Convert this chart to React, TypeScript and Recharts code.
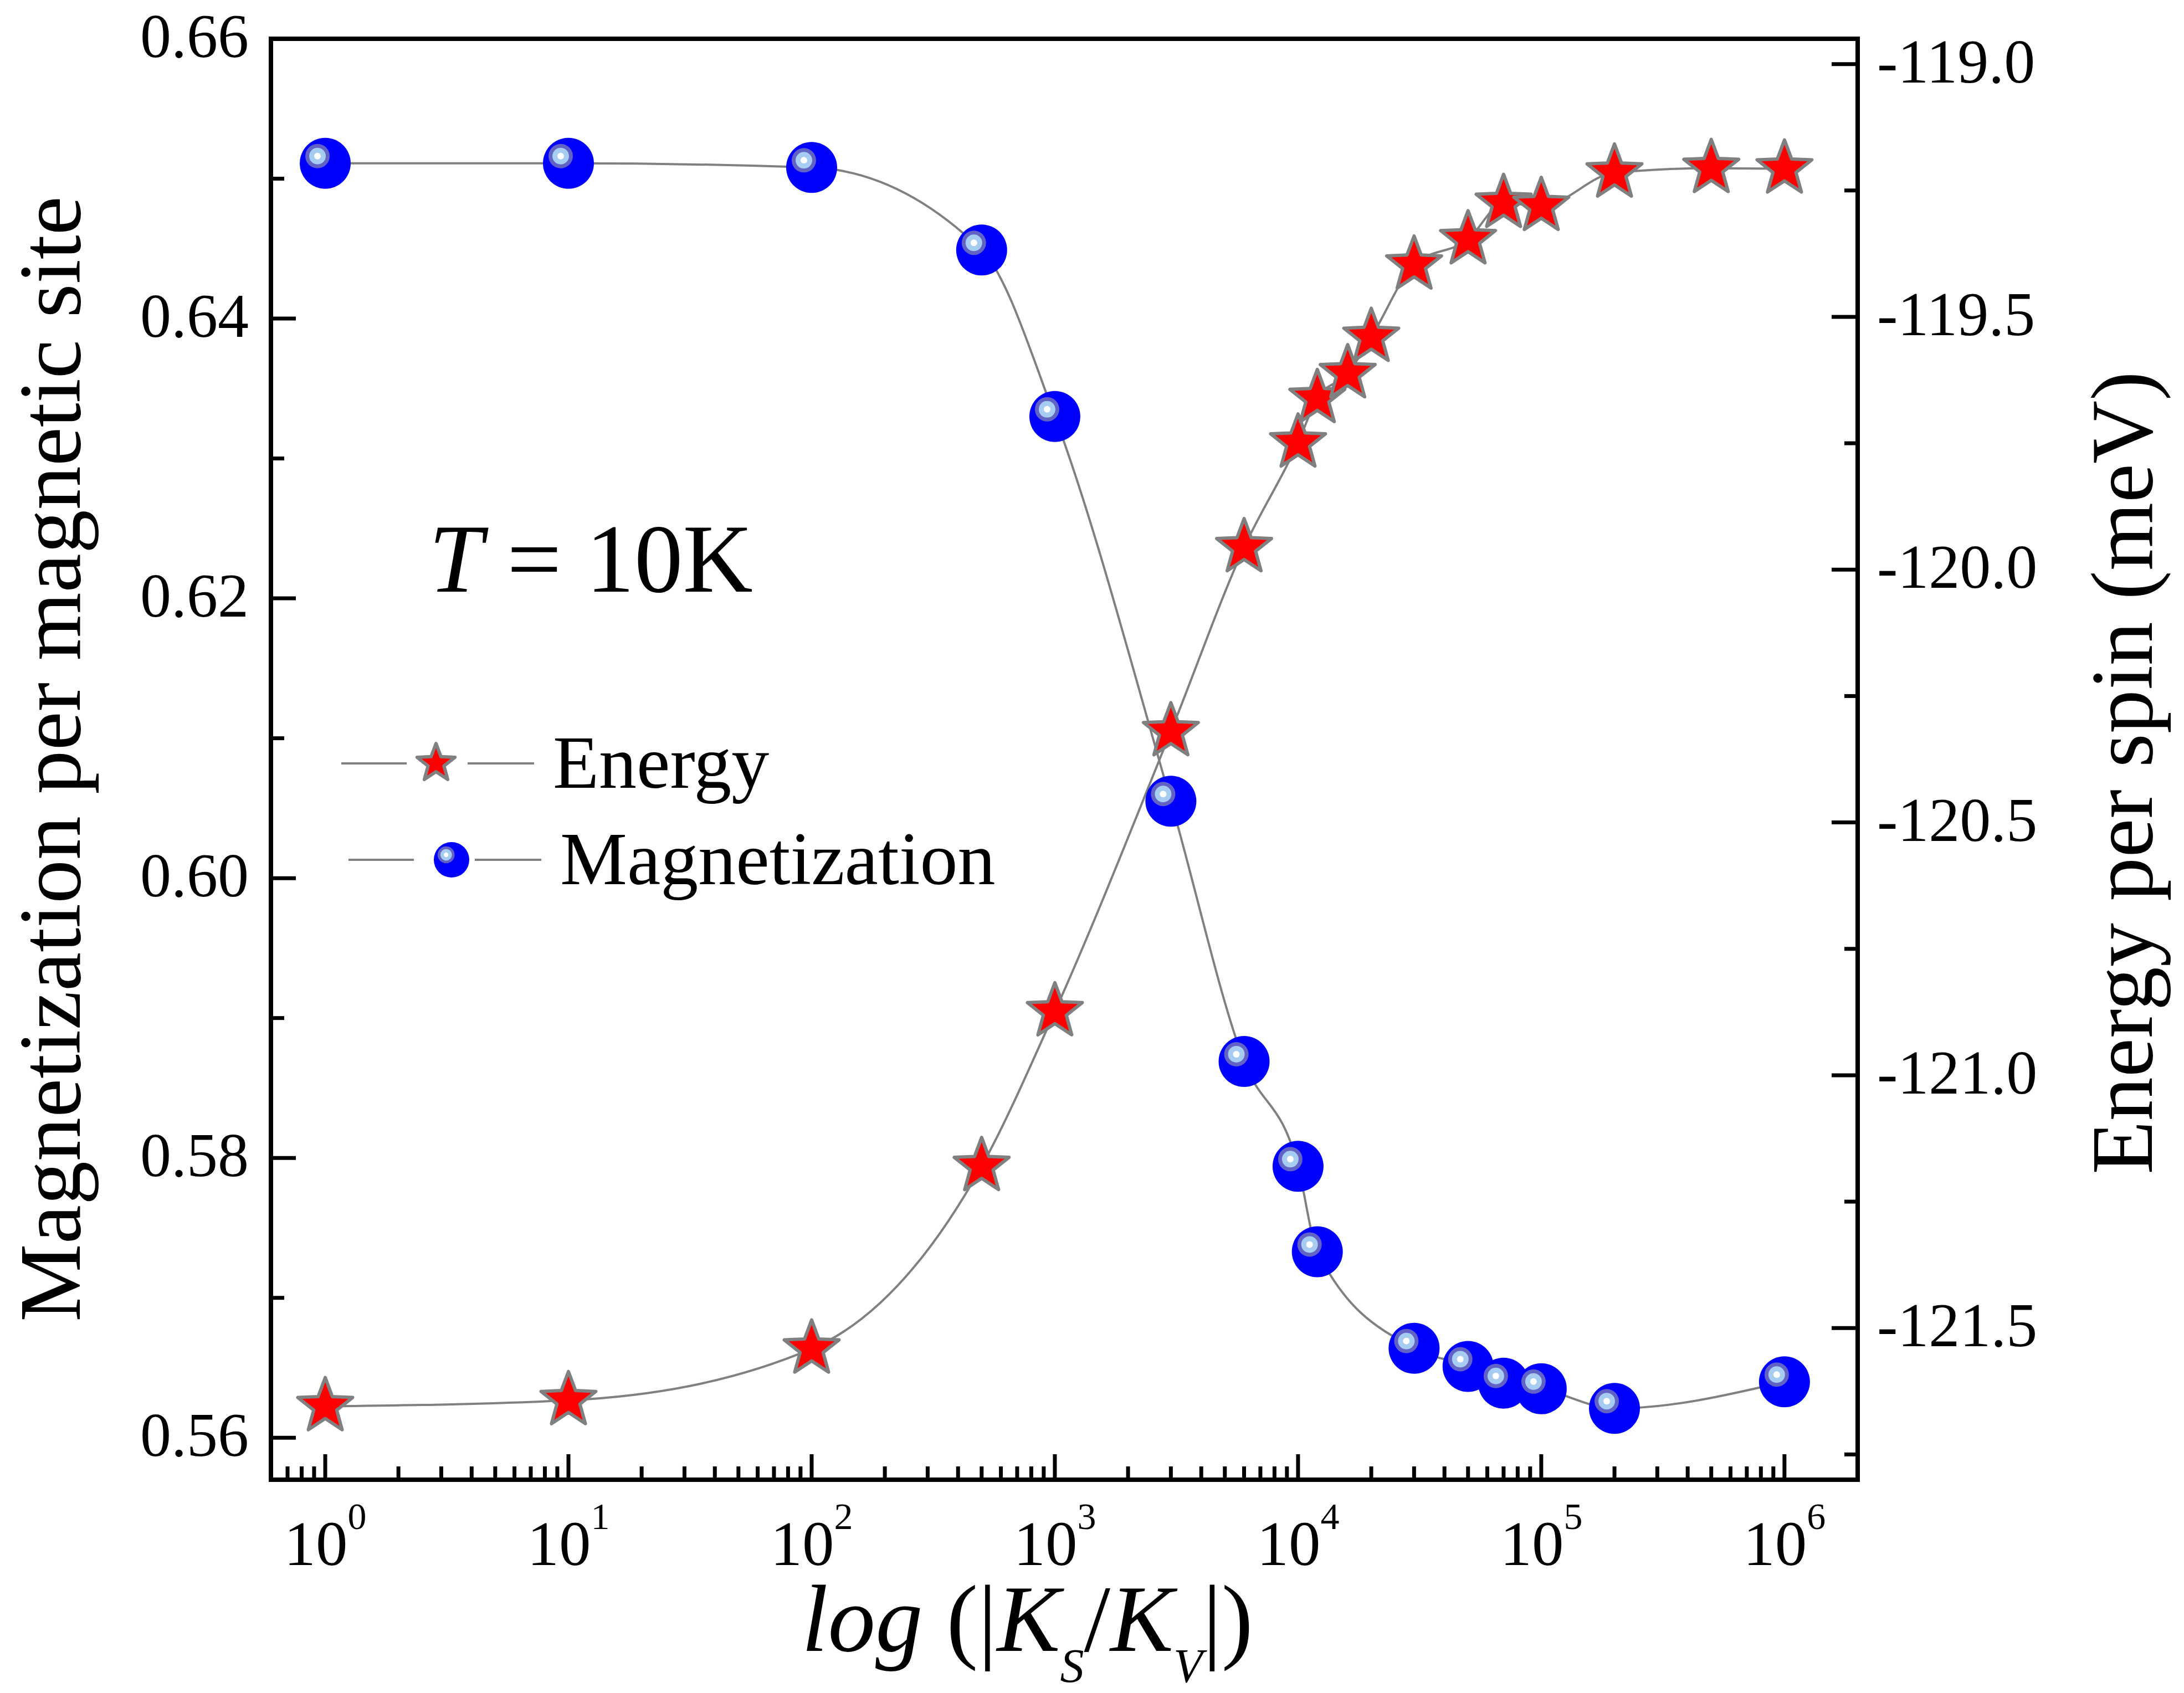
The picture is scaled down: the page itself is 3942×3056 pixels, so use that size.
import React from "react";
import { LineChart, Line, XAxis, YAxis, Legend, ReferenceLine } from "recharts";

const W = 3942;
const H = 3056;
const FONT = '"Liberation Serif", "Times New Roman", serif';

// |K_S/K_V| and energy per spin (meV)
const energyRatio = [1, 10, 100, 500, 1000, 3000, 6000, 10000, 12000, 16000, 20000, 30000, 50000, 70000, 100000, 200000, 500000, 1000000];
const energyMeV = [-121.655, -121.643, -121.541, -121.18, -120.874, -120.32, -119.956, -119.749, -119.661, -119.612, -119.54, -119.397, -119.347, -119.275, -119.281, -119.215, -119.206, -119.207];

// |K_S/K_V| and magnetization per magnetic site
const magRatio = [1, 10, 100, 500, 1000, 3000, 6000, 10000, 12000, 30000, 50000, 70000, 100000, 200000, 1000000];
const magnetization = [0.6511, 0.6511, 0.6508, 0.6449, 0.633, 0.6055, 0.5869, 0.5794, 0.5733, 0.5664, 0.5651, 0.5639, 0.5635, 0.5621, 0.564];

// axis ticks
const leftTicks = [0.56, 0.57, 0.58, 0.59, 0.6, 0.61, 0.62, 0.63, 0.64, 0.65, 0.66];
const rightTicks = [-121.75, -121.5, -121.25, -121.0, -120.75, -120.5, -120.25, -120.0, -119.75, -119.5, -119.25, -119.0];
const decades = [1, 10, 100, 1000, 10000, 100000, 1000000];
const minorSteps = [2, 3, 4, 5, 6, 7, 8, 9];
const xTicks = [0.7, 0.8, 0.9, ...decades.flatMap((d) => (d === 1000000 ? [d] : [d, ...minorSteps.map((m) => m * d)]))];

const energyData = energyRatio.map((k, i) => ({ k, e: energyMeV[i] }));
const magData = magRatio.map((k, i) => ({ k, m: magnetization[i] }));

const starPath = (cx: number, cy: number, R: number, r: number) => {
  let d = "";
  for (let i = 0; i < 10; i++) {
    const a = -Math.PI / 2 + (i * Math.PI) / 5;
    const rad = i % 2 === 0 ? R : r;
    d += (i ? "L" : "M") + (cx + rad * Math.cos(a)).toFixed(2) + "," + (cy + rad * Math.sin(a)).toFixed(2);
  }
  return d + "Z";
};

const Star = ({ cx, cy, size = 52 }: any) => (
  <path d={starPath(cx, cy, size, size * 0.42)} fill="#ff0000" stroke="#808080" strokeWidth={6} strokeLinejoin="round" />
);

const Ball = ({ cx, cy, r = 46 }: any) => {
  const k = r / 46;
  const hx = cx - 14 * k;
  const hy = cy - 13 * k;
  return (
    <g>
      <circle cx={cx} cy={cy} r={r} fill="#0000ff" />
      <circle cx={hx} cy={hy} r={22 * k} fill="#6262c4" />
      <circle cx={hx} cy={hy} r={15 * k} fill="#a6ccf2" />
      <circle cx={hx} cy={hy} r={6 * k} fill="#ffffff" />
    </g>
  );
};

const LeftTick = (props: any) => {
  const { x, y, payload } = props;
  const v = payload.value;
  const major = Math.round(v * 100) % 2 === 0;
  return (
    <g>
      <line x1={x} x2={x + (major ? 45 : 24)} y1={y} y2={y} stroke="#000" strokeWidth={7} />
      {major && (
        <text x={x - 40} y={y + 33} textAnchor="end" fontSize={112} fontFamily={FONT} fill="#000">
          {v.toFixed(2)}
        </text>
      )}
    </g>
  );
};

const RightTick = (props: any) => {
  const { x, y, payload } = props;
  const v = payload.value;
  const major = Math.abs(v * 2 - Math.round(v * 2)) < 1e-6;
  return (
    <g>
      <line x1={x} x2={x - (major ? 47 : 24)} y1={y} y2={y} stroke="#000" strokeWidth={7} />
      {major && (
        <text x={x + 35} y={y + 33} textAnchor="start" fontSize={112} fontFamily={FONT} fill="#000">
          {v.toFixed(1)}
        </text>
      )}
    </g>
  );
};

const BottomTick = (props: any) => {
  const { x, y, payload } = props;
  const lg = Math.log10(payload.value);
  const exp = Math.round(lg);
  const major = Math.abs(lg - exp) < 1e-9;
  return (
    <g>
      <line x1={x} x2={x} y1={y} y2={y - (major ? 46 : 24)} stroke="#000" strokeWidth={7} />
      {major && (
        <text x={x} y={y + 154} textAnchor="middle" fontSize={115} fontFamily={FONT} fill="#000">
          10
          <tspan dy={-65} fontSize={68}>
            {exp}
          </tspan>
        </text>
      )}
    </g>
  );
};

const legendItems = [
  { name: "Energy", kind: "star" },
  { name: "Magnetization", kind: "ball" },
];

// legend box drawn inside the plot, left part of the middle
const renderLegend = () => (
  <svg width={1300} height={360}>
    {legendItems.map((item, i) => {
      const rowY = i === 0 ? 88 : 262;
      const x0 = i === 0 ? 16 : 29;
      const mx = x0 + 171;
      return (
        <g key={item.name}>
          <line x1={x0} x2={x0 + 118} y1={rowY} y2={rowY} stroke="#808080" strokeWidth={4} />
          <line x1={x0 + 228} x2={x0 + 348} y1={rowY} y2={rowY} stroke="#808080" strokeWidth={4} />
          {item.kind === "star" ? <Star cx={mx} cy={rowY} size={36} /> : <Ball cx={mx + 15} cy={rowY} r={32} />}
          <text x={x0 + 382} y={rowY + 44} fontSize={136} fontFamily={FONT} fill="#000">
            {item.name}
          </text>
        </g>
      );
    })}
  </svg>
);

const axisLine = { stroke: "#000", strokeWidth: 8, strokeLinecap: "square" as const };

export default function App() {
  return (
    <div style={{ position: "absolute", left: 0, top: 0, width: W, height: H, background: "#fff" }}>
      <LineChart width={W} height={H} margin={{ top: 70, right: 389, bottom: 185, left: 289 }}>
        <XAxis
          dataKey="k"
          type="number"
          scale="log"
          domain={[0.598, 2000000]}
          allowDataOverflow
          ticks={xTicks}
          interval={0}
          height={200}
          tickSize={0}
          tickMargin={0}
          tickLine={false}
          axisLine={axisLine}
          tick={<BottomTick />}
        />
        <YAxis
          yAxisId="left"
          type="number"
          domain={[0.557, 0.66]}
          allowDataOverflow
          ticks={leftTicks}
          interval={0}
          width={200}
          tickSize={0}
          tickMargin={0}
          tickLine={false}
          axisLine={axisLine}
          tick={<LeftTick />}
        />
        <YAxis
          yAxisId="right"
          orientation="right"
          type="number"
          domain={[-121.8, -118.95]}
          allowDataOverflow
          ticks={rightTicks}
          interval={0}
          width={200}
          tickSize={0}
          tickMargin={0}
          tickLine={false}
          axisLine={axisLine}
          tick={<RightTick />}
        />
        <ReferenceLine yAxisId="left" y={0.66} stroke="#000" strokeWidth={8} strokeLinecap="square" />
        <Line
          data={energyData}
          dataKey="e"
          yAxisId="right"
          type="monotone"
          stroke="#808080"
          strokeWidth={4}
          dot={(p: any) => <Star key={`e-${p.index}`} cx={p.cx} cy={p.cy} />}
          activeDot={false}
          isAnimationActive={false}
          name="Energy"
        />
        <Line
          data={magData}
          dataKey="m"
          yAxisId="left"
          type="monotone"
          stroke="#808080"
          strokeWidth={4}
          dot={(p: any) => <Ball key={`m-${p.index}`} cx={p.cx} cy={p.cy} />}
          activeDot={false}
          isAnimationActive={false}
          name="Magnetization"
        />
        <Legend
          layout="horizontal"
          verticalAlign="middle"
          align="center"
          content={renderLegend}
          wrapperStyle={{ left: 600, top: 1290, width: 1300, height: 360 }}
        />
      </LineChart>

      {/* titles and the temperature note */}
      <svg width={W} height={H} style={{ position: "absolute", left: 0, top: 0, pointerEvents: "none" }}>
        <text x={144} y={1370} transform="rotate(-90 144 1370)" textAnchor="middle" fontSize={158} fontFamily={FONT} fill="#000">
          Magnetization per magnetic site
        </text>
        <text x={3884} y={1395} transform="rotate(-90 3884 1395)" textAnchor="middle" fontSize={158} fontFamily={FONT} fill="#000">
          Energy per spin (meV)
        </text>
        <text x={1447} y={2980} fontSize={171} fontFamily={FONT} fill="#000">
          <tspan fontStyle="italic">log</tspan>
          <tspan> (|</tspan>
          <tspan fontStyle="italic">K</tspan>
          <tspan fontStyle="italic" fontSize={86} dy={56}>S</tspan>
          <tspan dy={-56}>/</tspan>
          <tspan fontStyle="italic">K</tspan>
          <tspan fontStyle="italic" fontSize={86} dy={56}>V</tspan>
          <tspan dy={-56}>|)</tspan>
        </text>
        <text x={774} y={1068} fontSize={175} fontFamily={FONT} fill="#000">
          <tspan fontStyle="italic">T</tspan>
          <tspan> = 10K</tspan>
        </text>
      </svg>
    </div>
  );
}
